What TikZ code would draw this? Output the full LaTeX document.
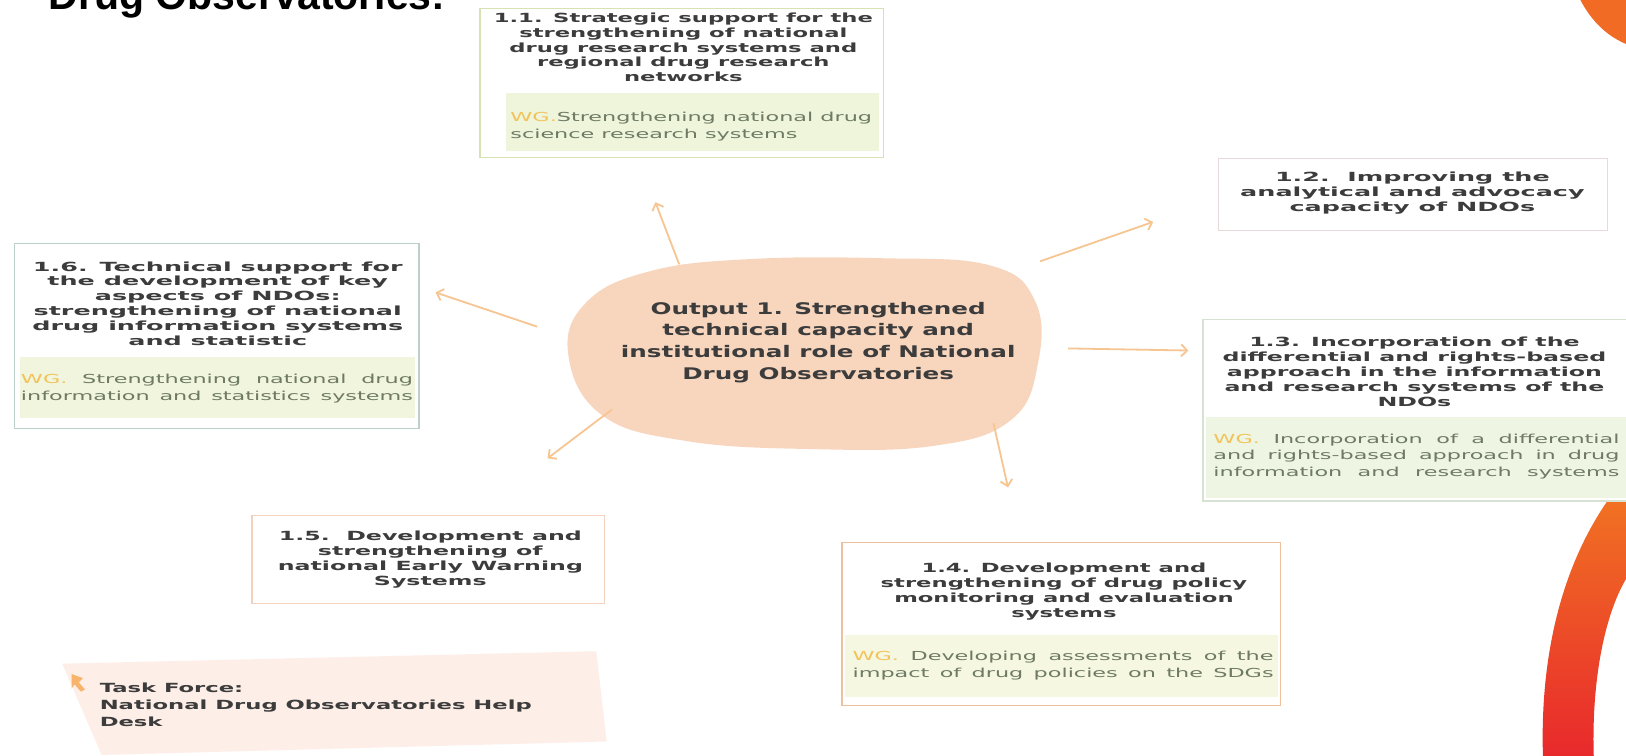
\documentclass[tikz,border=0pt]{standalone}
\usepackage{fontspec}
\usetikzlibrary{arrows.meta}
\newfontfamily\boxfont[FakeStretch=1.8]{DejaVu Sans}
\newfontfamily\boxfontmid[FakeStretch=1.88]{DejaVu Sans}
\newfontfamily\boxfontwide[FakeStretch=2.02]{DejaVu Sans}
\newfontfamily\hubfont[FakeStretch=1.54]{DejaVu Sans}
\newfontfamily\headfont{Liberation Sans}

\definecolor{titlegray}{HTML}{3C3C3C}
\definecolor{wggreen}{HTML}{6E7A64}
\definecolor{wggold}{HTML}{F2C35A}
\definecolor{hubfill}{HTML}{F8D6BE}
\definecolor{linkorange}{HTML}{F6C592}
\definecolor{edgeA}{HTML}{D6E1B4}
\definecolor{edgeB}{HTML}{E8DADA}
\definecolor{edgeC}{HTML}{BDD0C8}
\definecolor{edgeD}{HTML}{D8E2D2}
\definecolor{edgeE}{HTML}{F2D2BF}
\definecolor{edgeF}{HTML}{EDC19E}
\definecolor{subA}{HTML}{EEF5DA}
\definecolor{subB}{HTML}{F1F5DD}
\definecolor{subC}{HTML}{EEF5E2}
\definecolor{subD}{HTML}{F5F7E1}
\definecolor{taskpink}{HTML}{FDEEE7}
\definecolor{markorange}{HTML}{F7B46A}
\definecolor{arcorange}{HTML}{F27A22}
\definecolor{arcred}{HTML}{E8282C}
\definecolor{cornerorange}{HTML}{F26B24}

\newcommand{\wgtag}{\textcolor{wggold}{WG.}}

\begin{document}
\begin{tikzpicture}[x=1.037pt,y=-1.037pt,
  frame/.style={line width=1.3pt, fill=white},
  title/.style={font=\boxfont\bfseries\fontsize{12.6}{14.9}\selectfont,
    text=titlegray, align=center, inner sep=0pt, anchor=north},
  titlemid/.style={title, font=\boxfontmid\bfseries\fontsize{12.6}{14.9}\selectfont},
  titlewide/.style={title, font=\boxfontwide\bfseries\fontsize{12.6}{14.9}\selectfont},
  wgtext/.style={font=\boxfont\fontsize{12.4}{16.6}\selectfont,
    text=wggreen, align=left, inner sep=0pt, anchor=north west},
  link/.style={draw=linkorange, line width=1.8pt,
    -{Straight Barb[length=6pt,width=12pt,line width=1.8pt]}},
]
\useasboundingbox (0,0) rectangle (1568,729);
\fill[white] (0,0) rectangle (1568,729);

% heading, partly above the page
\node[anchor=base west, inner sep=0pt, font=\headfont\bfseries\fontsize{41}{41}\selectfont]
  (head) at (47,9) {Drug Observatories:};

% decorative bands at the right edge
\fill[cornerorange] (1523,-2) .. controls (1534,20) and (1550,36) .. (1572,44) -- (1572,-2) -- cycle;
\shade[top color=arcorange, bottom color=arcred]
  (1488,732) .. controls (1484,620) and (1512,520) .. (1575,452)
  -- (1575,548) .. controls (1550,580) and (1534,650) .. (1537,732) -- cycle;

% central hub
\fill[hubfill] plot[smooth cycle, tension=0.7] coordinates
  {(548,342) (565,292) (625,262) (720,250) (850,249) (955,256) (998,290)
   (1001,350) (975,405) (900,430) (780,433) (660,425) (580,400)};
\node[font=\hubfont\bfseries\fontsize{16}{21.7}\selectfont, text=titlegray,
  align=center, inner sep=0pt, anchor=north] (hub) at (789,291)
  {Output 1. Strengthened\\technical capacity and\\institutional role of National\\Drug Observatories};

% 1.1
\draw[frame, draw=edgeA] (463,8) rectangle (852,152);
\fill[subA] (488,90) rectangle (848,146);
\node[title] (t11) at (659,12) {1.1. Strategic support for the\\strengthening of national\\drug research systems and\\regional drug research\\networks};
\node[wgtext] (w11) at (492,108) {\wgtag Strengthening national drug\\science research systems};

% 1.2
\draw[frame, draw=edgeB] (1175,153) rectangle (1550,222);
\node[titlewide] (t12) at (1362,166) {1.2.\ \ Improving the\\analytical and advocacy\\capacity of NDOs};

% 1.6
\draw[frame, draw=edgeC] (14,235) rectangle (404,413);
\fill[subB] (19,344) rectangle (400,403);
\node[titlewide] (t16) at (210,252) {1.6. Technical support for\\the development of key\\aspects of NDOs:\\strengthening of national\\drug information systems\\and statistic};
\node[wgtext] (w16) at (20,361) {\makebox[392pt][s]{\wgtag{} Strengthening national drug}\\\makebox[392pt][s]{information and statistics systems}};

% 1.3
\draw[frame, draw=edgeD] (1160,308) rectangle (1575,483);
\fill[subC] (1163,402) rectangle (1572,480);
\node[titlemid] (t13) at (1364,325) {1.3. Incorporation of the\\differential and rights-based\\approach in the information\\and research systems of the\\NDOs};
\node[wgtext] (w13) at (1170,418) {\makebox[406pt][s]{\wgtag{} Incorporation of a differential}\\\makebox[406pt][s]{and rights-based approach in drug}\\\makebox[406pt][s]{information and research systems}};

% 1.5
\draw[frame, draw=edgeE] (243,497) rectangle (583,582);
\node[titlemid] (t15) at (415,512) {1.5.\ \ Development and\\strengthening of\\national Early Warning\\Systems};

% 1.4
\draw[frame, draw=edgeF] (812,523) rectangle (1235,680);
\fill[subD] (815,612) rectangle (1232,672);
\node[title] (t14) at (1026,543) {1.4. Development and\\strengthening of drug policy\\monitoring and evaluation\\systems};
\node[wgtext] (w14) at (822,628) {\makebox[421pt][s]{\wgtag{} Developing assessments of the}\\\makebox[421pt][s]{impact of drug policies on the SDGs}};

% task force note
\fill[taskpink] (60,640) -- (575,628) -- (585,715) -- (98,728) -- cycle;
\fill[markorange] (69,650) -- (80,654) -- (76,658) -- (82,665) -- (78,667) -- (72,660) -- (69,664) -- cycle;
\node[font=\boxfont\bfseries\fontsize{12.6}{17}\selectfont, text=titlegray,
  align=left, inner sep=0pt, anchor=north west] (task) at (96,658)
  {Task Force:\\National Drug Observatories Help\\Desk};

% connectors from the hub
\coordinate (s11) at (655,255); \coordinate (e11) at (632,195);
\coordinate (s12) at (1003,252); \coordinate (e12) at (1112,214);
\coordinate (s16) at (518,315); \coordinate (e16) at (420,282);
\coordinate (s13) at (1030,336); \coordinate (e13) at (1146,338);
\coordinate (s14) at (958,408); \coordinate (e14) at (972,470);
\coordinate (s15) at (590,395); \coordinate (e15) at (528,442);
\foreach \k in {11,12,16,13,14,15}
  \draw[link] (s\k) -- (e\k);
\end{tikzpicture}
\end{document}
